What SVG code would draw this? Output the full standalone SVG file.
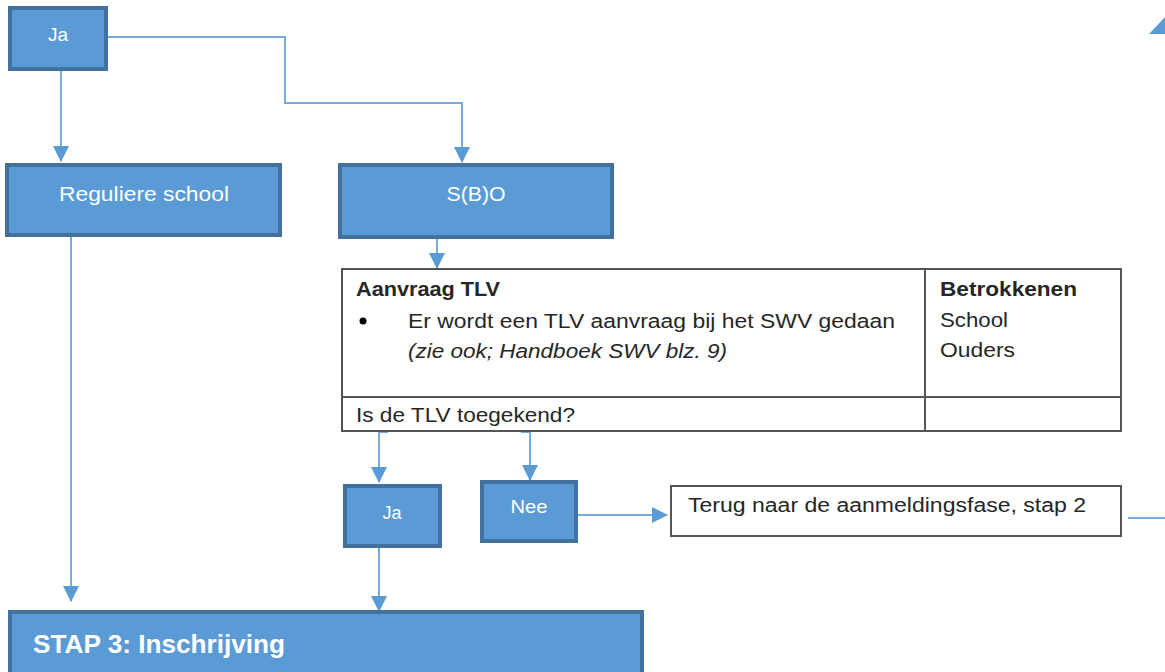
<svg xmlns="http://www.w3.org/2000/svg" width="1165" height="672" viewBox="0 0 1165 672">
<style>
.box{fill:#5b9bd5;stroke:#41719c;stroke-width:4}
.lbl{font-family:"Liberation Sans",Arial,sans-serif;fill:#ffffff;text-anchor:middle}
.tbl{fill:#ffffff;stroke:#555555;stroke-width:2}
.tl{stroke:#555555;stroke-width:2}
.tx{font-family:"Liberation Sans",Arial,sans-serif;fill:#262626;font-size:20px}
.b{font-weight:bold}
.conn{fill:none;stroke:#74aade;stroke-width:2}
</style>
<defs>
<marker id="ah" markerUnits="userSpaceOnUse" markerWidth="18" markerHeight="18" refX="15" refY="8" orient="auto">
<path d="M0,0 L16,8 L0,16 z" fill="#5b9bd5"/>
</marker>
</defs>
<rect width="1165" height="672" fill="#ffffff"/>
<g id="connectors">
<path class="conn" d="M61,71 V161" marker-end="url(#ah)"/>
<path class="conn" d="M108,37 H285 V103 H462 V162" marker-end="url(#ah)"/>
<path class="conn" d="M71,237 V601" marker-end="url(#ah)"/>
<path class="conn" d="M437,239 V268" marker-end="url(#ah)"/>
<path class="conn" d="M388,432 H379 V482" marker-end="url(#ah)"/>
<path class="conn" d="M521,432 H530 V480" marker-end="url(#ah)"/>
<path class="conn" d="M379,548 V611" marker-end="url(#ah)"/>
<path class="conn" d="M578,515 H667" marker-end="url(#ah)"/>
<path class="conn" d="M1128,518 H1165"/>
<polygon points="1149,34 1166,16 1183,34" fill="#5b9bd5"/>
</g>
<g id="ja-top">
<rect class="box" x="10" y="8" width="96" height="61"/>
<text class="lbl" x="58" y="41" font-size="19">Ja</text>
</g>
<g id="reguliere-school">
<rect class="box" x="7" y="165" width="273" height="70"/>
<text class="lbl" x="144" y="201" font-size="21" textLength="170" lengthAdjust="spacingAndGlyphs">Reguliere school</text>
</g>
<g id="sbo">
<rect class="box" x="340" y="165" width="272" height="72"/>
<text class="lbl" x="476" y="201" font-size="21" textLength="59" lengthAdjust="spacingAndGlyphs">S(B)O</text>
</g>
<g id="aanvraag-tlv">
<rect class="tbl" x="342" y="269" width="779" height="162"/>
<line class="tl" x1="925" y1="269" x2="925" y2="431"/>
<line class="tl" x1="342" y1="397" x2="1121" y2="397"/>
<text class="tx b" x="356" y="296" textLength="144" lengthAdjust="spacingAndGlyphs">Aanvraag TLV</text>
<circle cx="363" cy="321" r="3.5" fill="#000000"/>
<text class="tx" x="408" y="328" textLength="487" lengthAdjust="spacingAndGlyphs">Er wordt een TLV aanvraag bij het SWV gedaan</text>
<text class="tx" x="408" y="358" font-style="italic" textLength="319" lengthAdjust="spacingAndGlyphs">(zie ook; Handboek SWV blz. 9)</text>
<text class="tx b" x="940" y="296" textLength="137" lengthAdjust="spacingAndGlyphs">Betrokkenen</text>
<text class="tx" x="940" y="327" textLength="68" lengthAdjust="spacingAndGlyphs">School</text>
<text class="tx" x="940" y="357" textLength="75" lengthAdjust="spacingAndGlyphs">Ouders</text>
<text class="tx" x="356" y="422" textLength="219" lengthAdjust="spacingAndGlyphs">Is de TLV toegekend?</text>
</g>
<g id="ja-bottom">
<rect class="box" x="345" y="486" width="95" height="60"/>
<text class="lbl" x="392" y="519" font-size="18">Ja</text>
</g>
<g id="nee">
<rect class="box" x="482" y="482" width="94" height="59"/>
<text class="lbl" x="529" y="513" font-size="19" textLength="37" lengthAdjust="spacingAndGlyphs">Nee</text>
</g>
<g id="terug">
<rect class="tbl" x="671" y="486" width="450" height="50"/>
<text class="tx" x="688" y="512" textLength="398" lengthAdjust="spacingAndGlyphs">Terug naar de aanmeldingsfase, stap 2</text>
</g>
<g id="stap3">
<rect class="box" x="10" y="612" width="632" height="66"/>
<text class="lbl b" x="33" y="653" font-size="25" style="text-anchor:start" textLength="252" lengthAdjust="spacingAndGlyphs">STAP 3: Inschrijving</text>
</g>
</svg>
